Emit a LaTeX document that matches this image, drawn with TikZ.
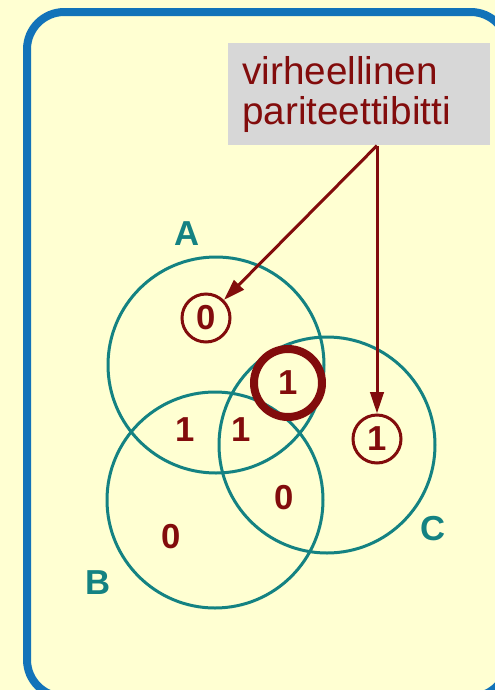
\documentclass[tikz,border=0pt]{standalone}
\usepackage{fontspec}
\setmainfont{Liberation Sans}
\usetikzlibrary{arrows.meta,positioning}

\definecolor{bgyellow}{RGB}{255,255,210}
\definecolor{framecol}{RGB}{18,115,185}
\definecolor{tealset}{RGB}{20,130,130}
\definecolor{bitred}{RGB}{130,12,12}
\definecolor{notegray}{RGB}{215,215,215}

\begin{document}
\begin{tikzpicture}[x=0.75pt,y=-0.75pt,
  setring/.style={circle,draw=tealset,line width=2.25pt,minimum size=162pt,inner sep=0pt},
  setlabel/.style={text=tealset,font=\fontsize{26}{26}\selectfont\bfseries,inner sep=0pt},
  bit/.style={text=bitred,font=\fontsize{26}{26}\selectfont\bfseries,inner sep=0pt},
  ringbit/.style={bit,circle,draw=bitred,line width=2.25pt,minimum size=36pt},
  errbit/.style={bit,circle,draw=bitred,line width=6pt,minimum size=51pt},
  pointer/.style={draw=bitred,line width=2.25pt,-{Triangle[length=16pt,width=10pt]}}]

\fill[bgyellow] (0,0) rectangle (495,690);
\useasboundingbox (0,0) rectangle (495,690);

% frame
\draw[framecol,line width=6pt,rounded corners=28pt] (27,12) rectangle (508,697);

% the three sets
\node[setring] (A) at (216,365) {};
\node[setring] (B) at (215,500) {};
\node[setring] (C) at (327,445) {};

\node[setlabel] (labA) at (187,234) {A};
\node[setlabel] (labB) at (98,583) {B};
\node[setlabel] (labC) at (433,529) {C};

% bits
\node[ringbit] (pA) at (206,318) {0};
\node[errbit] (pAC) at (288,383) {1};
\node[ringbit] (pC) at (377,439) {1};
\node[bit] (dAB) at (185,430) {1};
\node[bit] (dABC) at (241,430) {1};
\node[bit] (dBC) at (284,498) {0};
\node[bit] (dB) at (171,537) {0};

% note
\node[fill=notegray,anchor=north west,text=bitred,font=\fontsize{29}{30}\selectfont,
  text width=175pt,align=left,inner xsep=10.5pt,minimum height=76.5pt] (note) at (228,43)
  {virheellinen\\pariteettibitti};

\coordinate (src) at (note.south -| pC);
\draw[pointer] (src) -- (pA);
\draw[pointer] (src) -- (pC);

\end{tikzpicture}
\end{document}
